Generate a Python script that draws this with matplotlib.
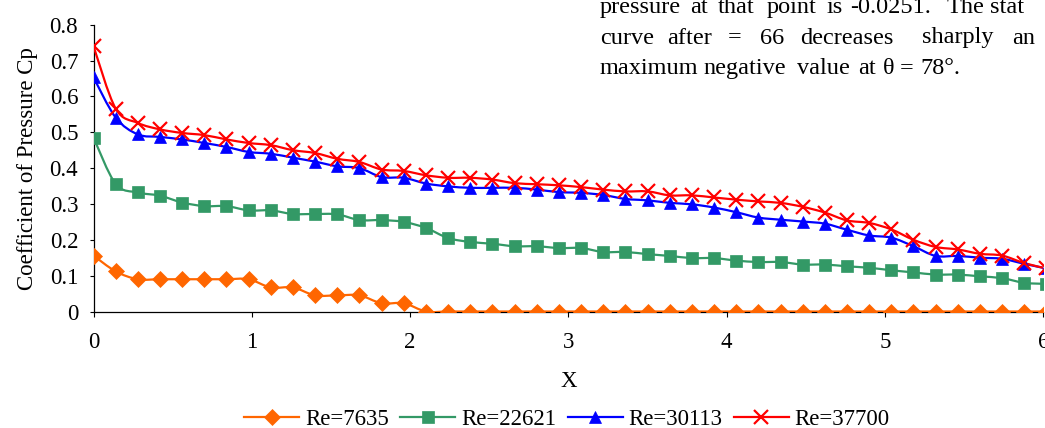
import numpy as np
import matplotlib
matplotlib.use("Agg")
import matplotlib.pyplot as plt
from matplotlib.path import Path
from matplotlib.patches import PathPatch
from matplotlib.lines import Line2D

plt.rcParams['font.family'] = ['Liberation Serif', 'DejaVu Serif']

# x positions of the measuring points
x = [0.00, 0.14, 0.28, 0.42, 0.56, 0.70, 0.84, 0.98, 1.12, 1.26, 1.40,
     1.54, 1.68, 1.82, 1.96, 2.10, 2.24, 2.38, 2.52, 2.66, 2.80, 2.94,
     3.08, 3.22, 3.36, 3.50, 3.64, 3.78, 3.92, 4.06, 4.20, 4.34, 4.48,
     4.62, 4.76, 4.90, 5.04, 5.18, 5.32, 5.46, 5.60, 5.74, 5.88, 6.02]

cp_7635 = [0.156, 0.112, 0.090, 0.090, 0.090, 0.090, 0.090, 0.090, 0.067, 0.067, 0.045,
           0.045, 0.045, 0.023, 0.023, 0.0, 0.0, 0.0, 0.0, 0.0, 0.0, 0.0,
           0.0, 0.0, 0.0, 0.0, 0.0, 0.0, 0.0, 0.0, 0.0, 0.0, 0.0,
           0.0, 0.0, 0.0, 0.0, 0.0, 0.0, 0.0, 0.0, 0.0, 0.0, 0.0]

cp_22621 = [0.485, 0.356, 0.332, 0.323, 0.304, 0.294, 0.294, 0.282, 0.282, 0.272, 0.272,
            0.271, 0.255, 0.255, 0.250, 0.233, 0.205, 0.194, 0.189, 0.182, 0.182, 0.177,
            0.177, 0.166, 0.166, 0.160, 0.155, 0.149, 0.149, 0.142, 0.138, 0.138, 0.131,
            0.131, 0.126, 0.122, 0.115, 0.109, 0.103, 0.103, 0.098, 0.093, 0.080, 0.077]

cp_30113 = [0.653, 0.541, 0.494, 0.487, 0.480, 0.470, 0.459, 0.445, 0.440, 0.429, 0.418,
            0.405, 0.400, 0.375, 0.373, 0.357, 0.349, 0.345, 0.345, 0.345, 0.340, 0.333,
            0.331, 0.325, 0.314, 0.310, 0.303, 0.299, 0.290, 0.277, 0.262, 0.256, 0.251,
            0.245, 0.228, 0.212, 0.206, 0.182, 0.155, 0.155, 0.150, 0.147, 0.133, 0.120]

cp_37700 = [0.740, 0.566, 0.526, 0.508, 0.498, 0.492, 0.480, 0.470, 0.464, 0.450, 0.442,
            0.426, 0.417, 0.396, 0.392, 0.380, 0.373, 0.373, 0.368, 0.358, 0.355, 0.352,
            0.347, 0.340, 0.335, 0.335, 0.324, 0.324, 0.318, 0.312, 0.307, 0.303, 0.292,
            0.276, 0.254, 0.247, 0.229, 0.200, 0.180, 0.173, 0.161, 0.156, 0.135, 0.120]

labels = ["Re=7635", "Re=22621", "Re=30113", "Re=37700"]
series = [cp_7635, cp_22621, cp_30113, cp_37700]
colors = ["#FF6600", "#339966", "#0000FF", "#FF0000"]
markers = ["D", "s", "^", "x"]
msizes = [8.5, 8.0, 8.5, 9.5]

xticks = [0, 1, 2, 3, 4, 5, 6]
yticks = [0, 0.1, 0.2, 0.3, 0.4, 0.5, 0.6, 0.7, 0.8]
ytick_labels = ["0", "0.1", "0.2", "0.3", "0.4", "0.5", "0.6", "0.7", "0.8"]


def smooth_path(xs, ys):
    # excel-like smoothed line: cubic bezier segments through every point
    p = np.column_stack([xs, ys]).astype(float)
    n = len(p)
    verts = [p[0]]
    codes = [Path.MOVETO]
    for i in range(n - 1):
        p0 = p[i - 1] if i > 0 else p[i]
        p1 = p[i]
        p2 = p[i + 1]
        p3 = p[i + 2] if i + 2 < n else p[i + 1]
        c1 = p1 + (p2 - p0) / 6.0
        c2 = p2 - (p3 - p1) / 6.0
        verts += [c1, c2, p2]
        codes += [Path.CURVE4] * 3
    return Path(verts, codes)


W, H = 1045, 428
fig = plt.figure(figsize=(W / 100, H / 100), dpi=100)
ax = fig.add_axes([93.5 / W, (H - 311.5) / H, 6 * 158.3 / W, 286.8 / H])

fs = 16.5
handles = []
for ys, c, m, ms, lab in zip(series, colors, markers, msizes, labels):
    ax.add_patch(PathPatch(smooth_path(x, ys), facecolor="none", edgecolor=c,
                           lw=1.6, zorder=3))
    mew = 1.6 if m == "x" else 0.5
    ax.plot(x, ys, ls="none", marker=m, ms=ms, color=c, mec=c, mew=mew, zorder=4)
    handles.append(Line2D([], [], color=c, lw=1.6, marker=m, ms=ms, mec=c, mew=mew))

ax.set_xlim(0, 6)
ax.set_ylim(0, 0.8)
ax.set_xticks(xticks)
ax.set_xticklabels([str(t) for t in xticks], fontsize=fs)
ax.set_yticks(yticks)
ax.set_yticklabels(ytick_labels, fontsize=fs)
ax.tick_params(axis="x", direction="out", length=3.6, width=0.8, pad=11)
ax.tick_params(axis="y", direction="out", length=3.0, width=0.8, pad=8)
for s in ["top", "right"]:
    ax.spines[s].set_visible(False)
for s in ["left", "bottom"]:
    ax.spines[s].set_linewidth(0.9)
ax.set_xlabel("X", fontsize=fs, labelpad=13)
ax.set_ylabel("Coefficient of Pressure Cp", fontsize=fs, labelpad=8)

fig.legend(handles, labels, loc="center", bbox_to_anchor=(567 / W, 1 - 419 / H),
           ncol=4, frameon=False, fontsize=fs, handlelength=2.4,
           handletextpad=0.25, columnspacing=0.5, borderpad=0)

# fragment of the surrounding page text (top right)
page_lines = [
    (13, [(600, "pressure"), (690, "at"), (718, "that"), (767, "point"), (827, "is"),
          (850, "-0.0251."), (947, "The"), (990, "stat")]),
    (43.5, [(600, "curve"), (667, "after"), (728, "="), (760, "66"), (800, "decreases"),
            (922, "sharply"), (1012, "an")]),
    (74, [(600, "maximum"), (703, "negative"), (797, "value"), (858, "at"), (883, "\u03b8"),
          (900, "="), (920, "78\u00b0.")]),
]
for base, words in page_lines:
    for px, w in words:
        fig.text(px / W, 1 - base / H, w, fontsize=17.5, ha="left", va="baseline")

fig.savefig("out.png", dpi=100)
